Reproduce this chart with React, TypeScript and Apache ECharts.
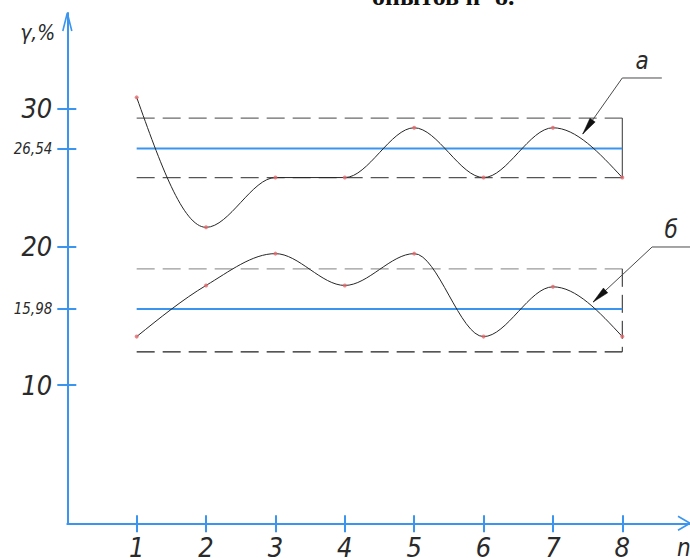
import React, { useEffect, useRef } from "react";
import * as echarts from "echarts";

// ---------- data ----------
const xCategories = [1, 2, 3, 4, 5, 6, 7, 8];
const xTickLabels = ["1", "2", "3", "4", "5", "6", "7", "8"];
const seriesA = [30.8, 21.4, 25.0, 25.0, 28.6, 25.0, 28.6, 25.0];
const seriesB = [13.5, 17.2, 19.5, 17.2, 19.5, 13.5, 17.1, 13.5];
// band lines: upper, mean, lower
const bandA = [29.3, 27.1, 25.0];
const bandB = [18.4, 15.5, 12.4];
const yTickValues = [10, 15.5, 20, 27.1, 30];
const yTickLabels = ["10", "15,98", "20", "26,54", "30"];
const curveLabels = ["а", "б"];
const yAxisName = "γ,%";
const xAxisName = "n";
const headerText = "опытов n=8.";

// ---------- layout ----------
const X_MAX = 8.976;
const Y_MAX = 36.9;
const BLUE = "#3b95ee";
const FONT = '"Liberation Sans Narrow", "DejaVu Sans Condensed", "Liberation Sans", sans-serif';
const TXT = "#2a2a2a";
// leader lines (annotation layout, in axis coordinates)
const leaderPaths = [
  [[8.57, 32.2], [8.0, 32.2], [7.43, 28.15]],
  [[8.98, 19.98], [8.43, 19.98], [7.58, 16.0]],
];

function hermiteTangents(ys: number[]) {
  const n = ys.length;
  const d: number[] = [];
  for (let i = 0; i < n - 1; i++) d.push(ys[i + 1] - ys[i]);
  const m = new Array(n).fill(0);
  for (let i = 1; i < n - 1; i++) {
    if (d[i - 1] * d[i] > 0) {
      const avg = (d[i - 1] + d[i]) / 2;
      const lim = 3 * Math.min(Math.abs(d[i - 1]), Math.abs(d[i]));
      m[i] = Math.sign(avg) * Math.min(Math.abs(avg), lim);
    }
  }
  m[0] = (3 * d[0] - m[1]) / 2;
  if (m[0] * d[0] < 0) m[0] = 0;
  m[n - 1] = (3 * d[n - 2] - m[n - 2]) / 2;
  if (m[n - 1] * d[n - 2] < 0) m[n - 1] = 0;
  return m;
}

function curveSeries(ys: number[], name: string) {
  const m = hermiteTangents(ys);
  return {
    type: "custom",
    name,
    coordinateSystem: "cartesian2d",
    z: 4,
    data: xCategories.map((x, i) => [x, ys[i]]),
    encode: { x: 0, y: 1 },
    renderItem: (params: any, api: any) => {
      const i = params.dataIndex;
      if (i >= ys.length - 1) return { type: "group", children: [] };
      const x0 = xCategories[i];
      const x1 = xCategories[i + 1];
      const h = x1 - x0;
      const p0 = api.coord([x0, ys[i]]);
      const p1 = api.coord([x1, ys[i + 1]]);
      const c0 = api.coord([x0 + h / 3, ys[i] + (m[i] * h) / 3]);
      const c1 = api.coord([x1 - h / 3, ys[i + 1] - (m[i + 1] * h) / 3]);
      return {
        type: "bezierCurve",
        shape: {
          x1: p0[0], y1: p0[1],
          cpx1: c0[0], cpy1: c0[1],
          cpx2: c1[0], cpy2: c1[1],
          x2: p1[0], y2: p1[1],
        },
        style: { stroke: "#262626", fill: "none", lineWidth: 1 },
      };
    },
  };
}

function hLine(v: number, color: string, type: any, width: number, z: number) {
  return {
    type: "line",
    data: [[xCategories[0], v], [xCategories[xCategories.length - 1], v]],
    showSymbol: false,
    symbol: "none",
    silent: true,
    z,
    lineStyle: { color, width, type },
  };
}

function vLine(top: number, bottom: number, color: string, type: any) {
  const x = xCategories[xCategories.length - 1];
  return {
    type: "line",
    data: [[x, top], [x, bottom]],
    showSymbol: false,
    symbol: "none",
    silent: true,
    z: 2,
    lineStyle: { color, width: 1, type },
  };
}

const DASH = [18, 8];

const option: any = {
  animation: false,
  backgroundColor: "#ffffff",
  grid: {
    left: 67.3,
    right: 0,
    top: 13,
    bottom: 34.7,
    containLabel: false,
    outerBoundsMode: "none",
  },
  xAxis: [
    {
      type: "value",
      min: 0,
      max: X_MAX,
      position: "bottom",
      axisLine: { show: true, onZero: false, lineStyle: { color: BLUE, width: 2 } },
      axisTick: { show: true, customValues: xCategories, length: 9, lineStyle: { color: BLUE, width: 2 } },
      axisLabel: {
        customValues: xCategories,
        margin: 11,
        formatter: (v: number) => {
          const i = xCategories.indexOf(Math.round(v));
          return i >= 0 ? xTickLabels[i] : "";
        },
        color: TXT,
        fontSize: 27,
        fontStyle: "italic",
        fontFamily: FONT,
      },
      splitLine: { show: false },
    },
    {
      type: "value",
      min: 0,
      max: X_MAX,
      position: "bottom",
      axisLine: { show: false, onZero: false },
      axisTick: { show: true, inside: true, customValues: xCategories, length: 8, lineStyle: { color: BLUE, width: 2 } },
      axisLabel: { show: false },
      splitLine: { show: false },
    },
  ],
  yAxis: [
    {
      type: "value",
      min: 0,
      max: Y_MAX,
      position: "left",
      axisLine: { show: true, onZero: false, lineStyle: { color: BLUE, width: 2 } },
      axisTick: { show: true, customValues: yTickValues, length: 10, lineStyle: { color: BLUE, width: 2 } },
      axisLabel: {
        customValues: yTickValues,
        margin: 15,
        formatter: (v: number) => {
          const i = yTickValues.findIndex((t) => Math.abs(t - v) < 1e-6);
          const s = i >= 0 ? yTickLabels[i] : "";
          return s.length > 2 ? `{s|${s}}` : `{b|${s}}`;
        },
        rich: {
          b: { fontSize: 27, fontStyle: "italic", fontFamily: FONT, color: TXT },
          s: { fontSize: 15, fontStyle: "italic", fontFamily: FONT, color: TXT },
        },
      },
      splitLine: { show: false },
    },
    {
      type: "value",
      min: 0,
      max: Y_MAX,
      position: "left",
      axisLine: { show: false, onZero: false },
      axisTick: { show: true, inside: true, customValues: yTickValues, length: 9, lineStyle: { color: BLUE, width: 2 } },
      axisLabel: { show: false },
      splitLine: { show: false },
    },
  ],
  series: [
    hLine(bandA[0], "#6a6a6a", DASH, 1.2, 2),
    hLine(bandA[2], "#555555", DASH, 1.2, 2),
    hLine(bandB[0], "#9a9a9a", DASH, 1.2, 2),
    hLine(bandB[2], "#1e1e1e", DASH, 1.2, 2),
    vLine(bandA[0], bandA[2], "#333333", "solid"),
    vLine(bandB[0], bandB[2], "#222222", DASH),
    hLine(bandA[1], BLUE, "solid", 2, 3),
    hLine(bandB[1], BLUE, "solid", 2, 3),
    curveSeries(seriesA, "a"),
    curveSeries(seriesB, "b"),
    {
      type: "scatter",
      data: xCategories.map((x, i) => [x, seriesA[i]]),
      symbolSize: 4,
      itemStyle: { color: "#e4696d" },
      z: 5,
      silent: true,
    },
    {
      type: "scatter",
      data: xCategories.map((x, i) => [x, seriesB[i]]),
      symbolSize: 4,
      itemStyle: { color: "#e4696d" },
      z: 5,
      silent: true,
    },
    {
      type: "custom",
      coordinateSystem: "cartesian2d",
      z: 6,
      silent: true,
      data: leaderPaths.map((p, i) => [p[0][0], p[0][1], i]),
      encode: { x: 0, y: 1 },
      renderItem: (params: any, api: any) => {
        const idx = params.dataIndex;
        const pts = leaderPaths[idx].map((p) => api.coord(p));
        const tip = pts[pts.length - 1];
        const prev = pts[pts.length - 2];
        const dx = tip[0] - prev[0];
        const dy = tip[1] - prev[1];
        const len = Math.sqrt(dx * dx + dy * dy);
        const ux = dx / len;
        const uy = dy / len;
        const bx = tip[0] - ux * 17;
        const by = tip[1] - uy * 17;
        const px = -uy * 3.2;
        const py = ux * 3.2;
        const midX = (pts[0][0] + pts[1][0]) / 2;
        const midY = pts[0][1];
        return {
          type: "group",
          children: [
            {
              type: "polyline",
              shape: { points: pts },
              style: { stroke: "#4a4a4a", fill: "none", lineWidth: 1 },
            },
            {
              type: "polygon",
              shape: { points: [tip, [bx + px, by + py], [bx - px, by - py]] },
              style: { fill: "#111111", stroke: "#111111", lineWidth: 0.5 },
            },
            {
              type: "text",
              x: midX,
              y: midY - 17,
              style: {
                text: curveLabels[idx],
                fontSize: 24,
                fontStyle: "italic",
                fontFamily: FONT,
                fill: TXT,
                align: "center",
                verticalAlign: "middle",
              },
            },
          ],
        };
      },
    },
  ],
};

export default function App() {
  const ref = useRef<HTMLDivElement>(null);
  useEffect(() => {
    document.body.style.margin = "0";
    const chart = echarts.init(ref.current!, null, { renderer: "svg" });
    chart.setOption(option);
    const o = chart.convertToPixel({ gridIndex: 0 }, [0, 0]) as number[];
    const t = chart.convertToPixel({ gridIndex: 0 }, [0, Y_MAX]) as number[];
    const r = chart.convertToPixel({ gridIndex: 0 }, [X_MAX, 0]) as number[];
    chart.setOption({
      graphic: [
        {
          type: "polyline",
          shape: { points: [[t[0] - 4.5, t[1] + 18], [t[0], t[1]], [t[0] + 4.5, t[1] + 18]] },
          style: { stroke: BLUE, fill: "none", lineWidth: 1.6 },
          z: 10,
        },
        {
          type: "polyline",
          shape: { points: [[r[0] - 12, o[1] - 7], [r[0], o[1]], [r[0] - 12, o[1] + 7]] },
          style: { stroke: BLUE, fill: "none", lineWidth: 1.6 },
          z: 10,
        },
        {
          type: "text",
          x: t[0] - 12,
          y: t[1] + 20,
          style: {
            text: yAxisName,
            fontSize: 21,
            fontStyle: "italic",
            fontFamily: FONT,
            fill: TXT,
            align: "right",
            verticalAlign: "middle",
          },
        },
        {
          type: "text",
          x: r[0] - 13,
          y: o[1] + 25,
          style: {
            text: xAxisName,
            fontSize: 24,
            fontStyle: "italic",
            fontFamily: FONT,
            fill: TXT,
            align: "left",
            verticalAlign: "middle",
          },
        },
        {
          type: "text",
          x: 372,
          y: -4,
          style: {
            text: headerText,
            fontSize: 26,
            fontWeight: "bold",
            fontFamily: '"Liberation Serif", "DejaVu Serif", serif',
            fill: "#111111",
            align: "left",
            verticalAlign: "middle",
          },
        },
      ],
    });
    return () => chart.dispose();
  }, []);
  return <div ref={ref} style={{ width: 690, height: 558 }} />;
}
